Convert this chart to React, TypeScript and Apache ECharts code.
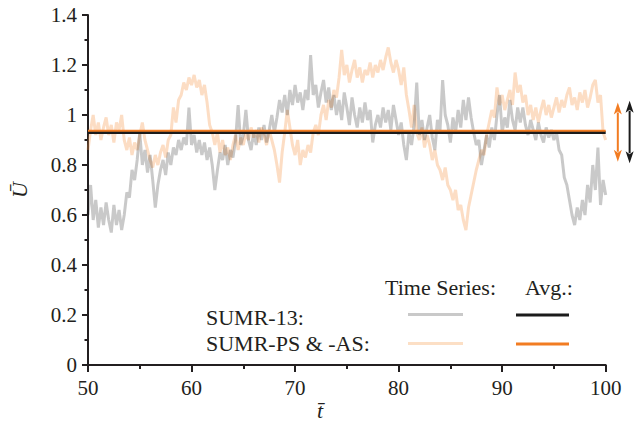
import React, { useEffect, useRef } from "react";
import * as echarts from "echarts";

// Time grid: samples every 0.25 time units starting at t = 50
const T_START = 50;
const T_STEP = 0.25;

// SUMR-13 time series
const sumr13 = [
  0.60, 0.72, 0.58, 0.66, 0.55, 0.63, 0.56, 0.65, 0.58, 0.53, 0.64, 0.56, 0.62, 0.54, 0.60, 0.69,
  0.67, 0.78, 0.74, 0.82, 0.93, 0.80, 0.86, 0.77, 0.84, 0.74, 0.63, 0.72, 0.78, 0.82, 0.76, 0.85,
  0.80, 0.87, 0.84, 0.90, 0.86, 0.91, 0.88, 1.03, 0.88, 0.92, 0.85, 0.90, 0.84, 0.89, 0.82, 0.87,
  0.80, 0.70, 0.78, 0.85, 0.82, 0.88, 0.80, 0.86, 0.83, 0.90, 1.04, 0.88, 0.92, 1.02, 0.90, 0.86,
  0.93, 0.88, 0.95, 0.90, 0.96, 0.89, 0.94, 1.00, 0.93, 0.99, 1.06, 1.01, 1.08, 1.00, 1.10, 1.04,
  1.12, 1.05, 1.09, 1.02, 1.10, 1.06, 1.24, 1.08, 1.12, 1.03, 1.09, 1.14, 1.05, 1.11, 1.02, 1.08,
  1.00, 1.06, 0.98, 1.09, 1.03, 0.96, 1.07, 1.00, 0.95, 1.03, 0.97, 1.05, 0.98, 1.02, 0.89, 0.96,
  1.00, 0.95, 1.03, 0.97, 1.02, 0.94, 1.04, 0.98, 0.92, 0.97, 0.88, 0.82, 0.93, 0.88, 0.96, 1.13,
  0.92, 0.98, 0.90, 0.95, 1.00, 0.91, 0.86, 0.98, 0.94, 1.14, 1.00, 0.96, 0.89, 0.99, 0.93, 1.02,
  0.95, 1.06, 0.98, 1.07, 0.99, 0.93, 0.88, 0.90, 0.80, 0.86, 0.92, 0.87, 0.95, 0.90, 1.00, 1.08,
  0.93, 0.99, 0.95, 1.06, 0.98, 0.94, 1.03, 0.97, 1.03, 0.96, 0.92, 0.98, 0.94, 0.90, 0.97, 0.92,
  0.89, 0.95, 0.91, 0.94, 0.90, 0.93, 0.86, 0.84, 0.75, 0.72, 0.66, 0.60, 0.56, 0.63, 0.58, 0.66,
  0.60, 0.72, 0.65, 0.80, 0.70, 0.87, 0.64, 0.74, 0.68,
];

// SUMR-PS & -AS time series
const sumrPS = [
  0.86, 0.94, 1.00, 0.92, 0.97, 0.90, 0.95, 0.99, 0.92, 0.96, 0.89, 0.97, 0.94, 1.00, 0.90, 0.86,
  0.91, 0.84, 0.89, 0.86, 0.92, 0.97, 0.90, 0.86, 0.82, 0.79, 0.84, 0.80, 0.85, 0.88, 0.83, 0.90,
  0.92, 1.03, 0.97, 1.06, 1.08, 1.13, 1.10, 1.15, 1.12, 1.16, 1.11, 1.14, 1.08, 1.12, 1.05, 0.96,
  0.93, 0.88, 0.93, 0.85, 0.90, 0.84, 0.87, 0.82, 0.88, 0.92, 0.86, 0.91, 0.88, 0.93, 0.90, 0.95,
  0.91, 0.94, 0.89, 0.95, 0.92, 0.88, 0.94, 0.90, 0.86, 0.80, 0.73, 0.85, 0.93, 1.02, 0.95, 0.88,
  0.84, 0.90, 0.80, 0.86, 0.83, 0.88, 0.85, 0.93, 0.96, 0.92, 1.00, 1.04, 0.98, 1.06, 1.03, 1.10,
  1.07, 1.15, 1.26, 1.16, 1.20, 1.13, 1.18, 1.22, 1.15, 1.19, 1.13, 1.18, 1.16, 1.21, 1.15, 1.20,
  1.17, 1.22, 1.18, 1.23, 1.27, 1.21, 1.17, 1.22, 1.18, 1.12, 1.19, 1.08, 1.02, 0.95, 1.04, 0.93,
  0.90, 0.95, 0.87, 0.92, 0.88, 0.82, 0.86, 0.80, 0.78, 0.74, 0.79, 0.72, 0.70, 0.66, 0.70, 0.62,
  0.64, 0.58, 0.54, 0.63, 0.68, 0.73, 0.78, 0.82, 0.86, 0.84, 0.92, 0.97, 1.02, 0.99, 1.11, 1.04,
  1.08, 1.02, 1.06, 1.10, 1.04, 1.17, 1.09, 1.12, 1.05, 1.08, 1.00, 1.04, 0.98, 1.03, 0.97, 1.02,
  1.06, 1.00, 1.04, 0.99, 1.03, 1.07, 1.01, 1.06, 1.03, 1.08, 1.11, 1.04, 1.07, 1.02, 1.09, 1.05,
  1.10, 1.03, 1.07, 1.12, 1.14, 1.05, 1.08, 0.93, 0.90,
];

// Averages and spread (arrows to the right of the plot)
const avgLabels = ["SUMR-13", "SUMR-PS & -AS"];
const avgValues = [0.93, 0.937];
const spreadLow = [0.807, 0.813];
const spreadHigh = [1.057, 1.05];
const arrowX = [102.31, 101.17];

// Axis ranges / ticks
const X_MIN = 50, X_MAX = 100, X_INTERVAL = 10;
const Y_MIN = 0, Y_MAX = 1.4, Y_INTERVAL = 0.2;

const INK = "#231f20";
const GRAY_TS = "rgba(0,0,0,0.21)";
const ORANGE_TS = "rgba(247,150,70,0.32)";
const BLACK_AVG = "#1b1b1b";
const ORANGE_AVG = "#f27c22";
const FONT = "'Liberation Serif', 'Times New Roman', Times, serif";

function toPairs(vals: number[]) {
  return vals.map((v, i) => [T_START + i * T_STEP, v]);
}

export default function App() {
  const ref = useRef<HTMLDivElement>(null);
  useEffect(() => {
    if (!ref.current) return;
    const chart = echarts.init(ref.current, null, { renderer: "svg" });
    const arrowColors = [BLACK_AVG, ORANGE_AVG];
    const txt = (text: string, x: number, y: number, extra: any = {}) => ({
      type: "text",
      x,
      y,
      style: {
        text,
        fontFamily: FONT,
        fontSize: 22,
        fill: INK,
        align: "left",
        verticalAlign: "middle",
        ...extra,
      },
    });
    const seg = (x1: number, x2: number, y: number, color: string) => ({
      type: "line",
      shape: { x1, y1: y, x2, y2: y },
      style: { stroke: color, lineWidth: 3 },
    });
    chart.setOption({
      animation: false,
      backgroundColor: "#ffffff",
      textStyle: { fontFamily: FONT },
      grid: { left: 81.7, right: 28.3, top: 15, bottom: 56, containLabel: false },
      xAxis: {
        type: "value",
        min: X_MIN,
        max: X_MAX,
        interval: X_INTERVAL,
        axisLine: { show: true, lineStyle: { color: INK, width: 2 } },
        axisTick: { show: true, inside: false, length: 7, lineStyle: { color: INK, width: 2 } },
        minorTick: { show: true, splitNumber: 2, length: 4, lineStyle: { color: INK, width: 2 } },
        splitLine: { show: false },
        axisLabel: { color: INK, fontFamily: FONT, fontSize: 21, margin: 12 },
      },
      yAxis: {
        type: "value",
        min: Y_MIN,
        max: Y_MAX,
        interval: Y_INTERVAL,
        name: "U\u0304",
        nameLocation: "middle",
        nameRotate: 90,
        nameGap: 58,
        nameTextStyle: { color: INK, fontFamily: FONT, fontStyle: "italic", fontSize: 22 },
        axisLine: { show: true, lineStyle: { color: INK, width: 2 } },
        axisTick: { show: true, inside: false, length: 6, lineStyle: { color: INK, width: 2 } },
        minorTick: { show: true, splitNumber: 2, length: 3.5, lineStyle: { color: INK, width: 2 } },
        splitLine: { show: false },
        axisLabel: { color: INK, fontFamily: FONT, fontSize: 21, margin: 11 },
      },
      graphic: [
        txt("t\u0304", 320, 410, { fontStyle: "italic", align: "center" }),
        txt("Time Series:", 385, 287),
        txt("Avg.:", 525, 287),
        txt("SUMR-13:", 206, 317),
        txt("SUMR-PS & -AS:", 206, 343),
        seg(408, 463, 314.5, "#c9c9c9"),
        seg(516, 569, 315, BLACK_AVG),
        seg(408, 463, 343.5, "#fcdfc5"),
        seg(516, 569, 344, ORANGE_AVG),
      ],
      series: [
        {
          name: "SUMR-PS & -AS time series",
          type: "line",
          data: toPairs(sumrPS),
          showSymbol: false,
          symbol: "none",
          lineStyle: { color: ORANGE_TS, width: 3 },
          z: 2,
        },
        {
          name: "SUMR-13 time series",
          type: "line",
          data: toPairs(sumr13),
          showSymbol: false,
          symbol: "none",
          lineStyle: { color: GRAY_TS, width: 3 },
          z: 3,
        },
        {
          name: avgLabels[0] + " avg",
          type: "line",
          data: [[X_MIN, avgValues[0]], [X_MAX, avgValues[0]]],
          showSymbol: false,
          symbol: "none",
          lineStyle: { color: BLACK_AVG, width: 3 },
          z: 4,
        },
        {
          name: avgLabels[1] + " avg",
          type: "line",
          data: [[X_MIN, avgValues[1]], [X_MAX, avgValues[1]]],
          showSymbol: false,
          symbol: "none",
          lineStyle: { color: ORANGE_AVG, width: 2 },
          z: 5,
        },
        {
          name: "spread",
          type: "custom",
          clip: false,
          data: arrowX.map((x, i) => [x, spreadLow[i], spreadHigh[i]]),
          encode: { x: 0, y: [1, 2] },
          renderItem: (params: any, api: any) => {
            const x = api.value(0);
            const top = api.coord([x, api.value(2)]);
            const bot = api.coord([x, api.value(1)]);
            const color = arrowColors[params.dataIndex];
            const hw = 4, hh = 12;
            return {
              type: "group",
              children: [
                {
                  type: "line",
                  shape: { x1: top[0], y1: top[1] + hh - 2, x2: bot[0], y2: bot[1] - hh + 2 },
                  style: { stroke: color, lineWidth: 2 },
                },
                {
                  type: "polygon",
                  shape: { points: [[top[0], top[1]], [top[0] - hw, top[1] + hh], [top[0], top[1] + hh - 3], [top[0] + hw, top[1] + hh]] },
                  style: { fill: color },
                },
                {
                  type: "polygon",
                  shape: { points: [[bot[0], bot[1]], [bot[0] - hw, bot[1] - hh], [bot[0], bot[1] - hh + 3], [bot[0] + hw, bot[1] - hh]] },
                  style: { fill: color },
                },
              ],
            };
          },
          z: 6,
        },
      ],
    });
    return () => chart.dispose();
  }, []);
  return (
    <div
      ref={ref}
      style={{ position: "fixed", left: 0, top: 0, width: 634, height: 421, background: "#fff" }}
    />
  );
}
